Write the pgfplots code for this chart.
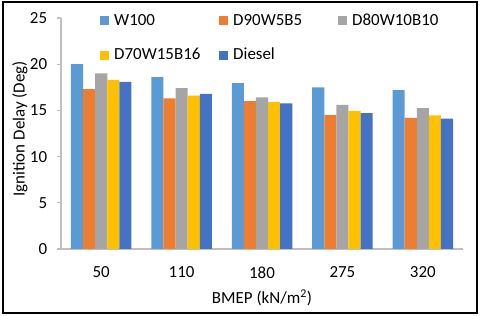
\documentclass[border=0pt]{standalone}
\usepackage{pgfplots}
\pgfplotsset{compat=1.18}
\usepackage{fontspec}
\setmainfont{Carlito}
\definecolor{cA}{HTML}{5B9BD5}
\definecolor{cB}{HTML}{ED7D31}
\definecolor{cC}{HTML}{A5A5A5}
\definecolor{cD}{HTML}{FFC000}
\definecolor{cE}{HTML}{4472C4}
\definecolor{axgray}{RGB}{191,191,191}
\begin{document}
\fontsize{17}{20}\selectfont
\begin{tikzpicture}
\useasboundingbox (0,0) rectangle (480bp,316bp);
\draw[line width=2bp] (2.5bp,3bp) rectangle (477bp,313.5bp);
\begin{axis}[
  at={(61bp,67bp)}, anchor=south west,
  scale only axis, width=402bp, height=231bp,
  ybar=0pt, bar width=12.1bp,
  xmin=-0.5, xmax=4.5, ymin=0, ymax=25,
  xtick=data, xticklabels={50,110,180,275,320},
  ytick={0,5,10,15,20,25},
  axis x line*=bottom, axis y line*=left,
  axis line style={axgray, line width=1.5bp},
  x tick style={draw=none},
  y tick style={axgray, line width=1.2bp},
  tick align=outside, major tick length=4bp,
  /pgf/number format/assume math mode=true,
  tick label style={font=\fontsize{17}{20}\selectfont},
  xticklabel style={yshift=-8bp},
  yticklabel style={xshift=-4bp},
  xlabel={BMEP (kN/m\textsuperscript{2})},
  ylabel={Ignition Delay (Deg)},
  every axis x label/.style={at={(axis description cs:0.5,-0.212)}, anchor=center},
  every axis y label/.style={at={(axis description cs:-0.102,0.52)}, rotate=90, anchor=center},
  legend columns=3,
  legend style={at={(axis description cs:0.0896,1.036)}, anchor=north west, draw=none, fill=none,
    nodes={inner sep=2bp, anchor=west}, row sep=16bp, font=\fontsize{17}{20}\selectfont,
    /tikz/every odd column/.append style={column sep=3bp}},
  legend cell align=left,
]
\addplot[draw=none, fill=cA, legend image code/.code={\fill[cA] (0bp,-4.5bp) rectangle (9bp,4.5bp);}] coordinates {(0,20.0) (1,18.6) (2,17.95) (3,17.5) (4,17.2)};
\addplot[draw=none, fill=cB, legend image code/.code={\fill[cB] (0bp,-4.5bp) rectangle (9bp,4.5bp);}] coordinates {(0,17.3) (1,16.3) (2,16.0) (3,14.5) (4,14.2)};
\addplot[draw=none, fill=cC, legend image code/.code={\fill[cC] (0bp,-4.5bp) rectangle (9bp,4.5bp);}] coordinates {(0,19.0) (1,17.4) (2,16.4) (3,15.6) (4,15.25)};
\addplot[draw=none, fill=cD, legend image code/.code={\fill[cD] (0bp,-4.5bp) rectangle (9bp,4.5bp);}] coordinates {(0,18.3) (1,16.6) (2,15.9) (3,14.95) (4,14.45)};
\addplot[draw=none, fill=cE, legend image code/.code={\fill[cE] (0bp,-4.5bp) rectangle (9bp,4.5bp);}] coordinates {(0,18.1) (1,16.8) (2,15.75) (3,14.7) (4,14.1)};
\legend{\makebox[103bp][l]{W100},\makebox[103bp][l]{D90W5B5},D80W10B10,\makebox[103bp][l]{D70W15B16},Diesel}
\end{axis}
\end{tikzpicture}
\end{document}
